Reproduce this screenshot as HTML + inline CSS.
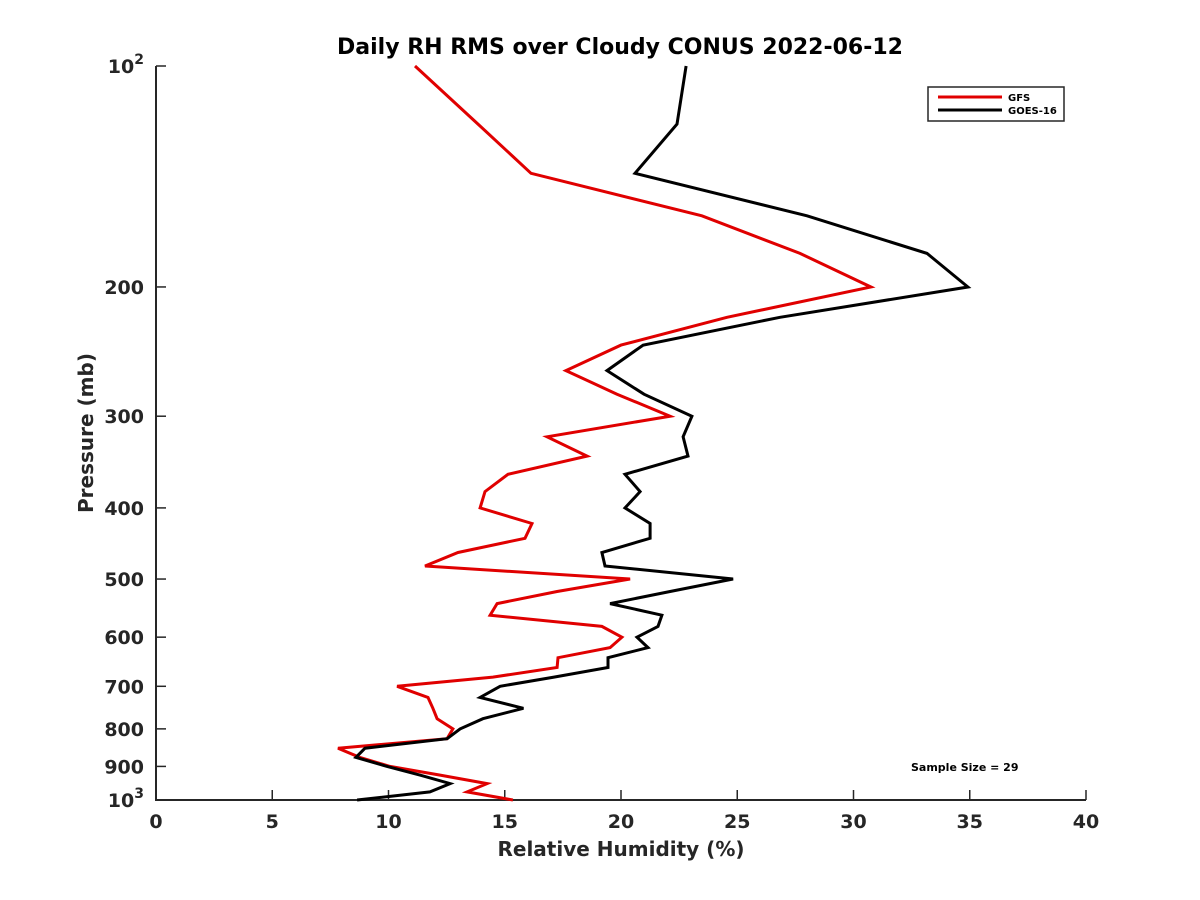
<!DOCTYPE html>
<html><head><meta charset="utf-8"><style>
body{margin:0;background:#fff}
svg{display:block;font-family:"DejaVu Sans","Liberation Sans",sans-serif;font-weight:bold}
</style></head><body>
<svg id="chart" width="1200" height="900" viewBox="0 0 1200 900" xmlns="http://www.w3.org/2000/svg">
<rect x="0" y="0" width="1200" height="900" fill="#fff"/>
<text x="620" y="54" text-anchor="middle" font-size="22" fill="#000">Daily RH RMS over Cloudy CONUS 2022-06-12</text>
<g id="axes"></g>
<g id="series"></g>
<text x="621" y="856" text-anchor="middle" font-size="20" fill="#262626">Relative Humidity (%)</text>
<text transform="translate(93,433) rotate(-90)" text-anchor="middle" font-size="20" fill="#262626">Pressure (mb)</text>
<g>
<rect x="928" y="87" width="136" height="34" fill="#fff" stroke="#262626" stroke-width="1.5"/>
<line x1="938" y1="97" x2="1002" y2="97" stroke="#e00000" stroke-width="3"/>
<text x="1008" y="101" font-size="10" fill="#000">GFS</text>
<line x1="938" y1="110" x2="1002" y2="110" stroke="#000" stroke-width="3"/>
<text x="1008" y="114" font-size="10" fill="#000">GOES-16</text>
</g>
<text x="911" y="771" font-size="11" fill="#000">Sample Size = 29</text>
</svg>
<script>
const pressureLevels=[100,120,140,160,180,200,220,240,260,280,300,320,340,360,380,400,420,440,460,480,500,520,540,560,580,600,620,640,660,680,700,725,750,775,800,825,850,875,900,925,950,975,1000];
const gfsValues=[11.14,13.85,16.13,23.48,27.70,30.75,24.56,20.0,17.63,19.83,22.11,16.82,18.54,15.14,14.15,13.94,16.17,15.87,12.99,11.57,20.39,17.25,14.67,14.37,19.18,20.04,19.53,17.29,17.25,14.49,10.37,11.70,11.91,12.09,12.77,12.52,7.83,8.77,10.06,12.22,14.24,13.38,15.35];
const goesValues=[22.80,22.41,20.60,28.0,33.16,34.92,26.84,20.95,19.40,20.99,23.05,22.67,22.88,20.17,20.82,20.17,21.25,21.25,19.18,19.31,24.82,22.11,19.53,21.76,21.59,20.69,21.16,19.44,19.44,17.12,14.80,13.94,15.8,14.06,13.08,12.52,8.99,8.60,9.94,11.35,12.65,11.78,8.65];
const xTicks=[0,5,10,15,20,25,30,35,40];
const yTicks=[100,200,300,400,500,600,700,800,900,1000];
const yTickLabels=["10^2","200","300","400","500","600","700","800","900","10^3"];

const L=156,R=1086,T=66,B=800;
const xScale=v=>L+(v-0)/(40-0)*(R-L);
const yScale=p=>T+(Math.log10(p)-2)/(1)*(B-T);
const NS="http://www.w3.org/2000/svg";
const axes=document.getElementById('axes');
const series=document.getElementById('series');
function mk(tag,attrs,parent){const e=document.createElementNS(NS,tag);for(const k in attrs)e.setAttribute(k,attrs[k]);parent.appendChild(e);return e;}
const ax=mk('path',{d:`M${L},${T}V${B}H${R}`,fill:'none',stroke:'#262626','stroke-width':2},axes);


xTicks.forEach(v=>{
  const x=xScale(v);
  const t=mk('line',{x1:x,y1:B,x2:x,y2:B-10,stroke:'#262626','stroke-width':1.5},axes);
  
  
  const lb=mk('text',{x:x,y:B+28,'text-anchor':'middle','font-size':19,fill:'#262626'},axes);
  lb.textContent=String(v);
  
  
});
yTicks.forEach((p,i)=>{
  const y=yScale(p);
  const t=mk('line',{x1:L,y1:y,x2:L+10,y2:y,stroke:'#262626','stroke-width':1.5},axes);
  
  
  const lb=mk('text',{x:L-12,y:y+7,'text-anchor':'end','font-size':19,fill:'#262626'},axes);
  const s=yTickLabels[i];
  if(s.indexOf('^')>=0){
    const [b,e]=s.split('^');
    const t1=mk('tspan',{},lb);t1.textContent=b;
    const t2=mk('tspan',{dy:-9,'font-size':14},lb);t2.textContent=e;
  } else lb.textContent=s;
  
  
});
function line(vals,color,name){
  const d=vals.map((v,i)=>(i?'L':'M')+xScale(v).toFixed(1)+','+yScale(pressureLevels[i]).toFixed(1)).join('');
  const p=mk('path',{d:d,fill:'none',stroke:color,'stroke-width':3,'stroke-linejoin':'miter'},series);
  
  
}
line(gfsValues,'#e00000','gfs-line');
line(goesValues,'#000','goes16-line');
</script>
</body></html>
